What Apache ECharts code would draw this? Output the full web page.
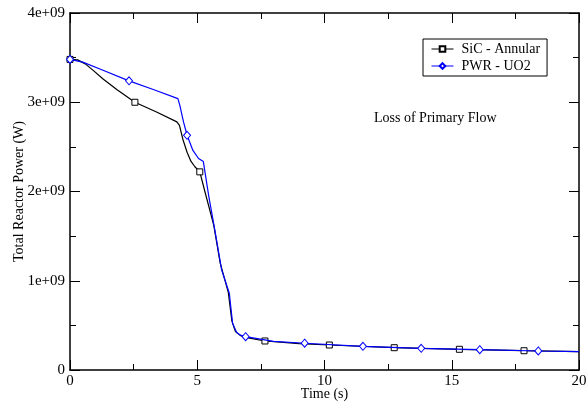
<!DOCTYPE html>
<html>
<head>
<meta charset="utf-8">
<title>Loss of Primary Flow</title>
<script src="https://cdn.jsdelivr.net/npm/echarts@6/dist/echarts.min.js"></script>
<style>
    html, body { margin: 0; padding: 0; background: #fff; }
    #chart { width: 587px; height: 406px; }
</style>
</head>
<body>
<div id="chart"></div>
<script>
    // time (s) and power (units of 1e9 W)
    var sicTime  = [0, 0.3, 0.6, 0.9, 1.3, 1.85, 2.55, 3.4, 4.2, 4.3, 4.44, 4.6, 4.75, 4.9, 5.1, 5.3, 5.65, 5.9, 6.22, 6.36, 6.5, 6.7, 7.0, 7.66, 9.0, 10.19, 12.74, 15.3, 17.84, 20];
    var sicPower = [3.48, 3.475, 3.43, 3.36, 3.26, 3.14, 3.00, 2.89, 2.78, 2.74, 2.58, 2.44, 2.34, 2.28, 2.22, 2.0, 1.62, 1.2, 0.87, 0.55, 0.43, 0.385, 0.36, 0.325, 0.295, 0.28, 0.25, 0.232, 0.216, 0.205];
    var sicMarks = [0, 6, 14, 23, 25, 26, 27, 28];

    var pwrTime  = [0, 0.5, 1.2, 2.32, 3.3, 4.24, 4.32, 4.46, 4.6, 4.83, 5.05, 5.24, 5.45, 5.69, 5.96, 6.26, 6.39, 6.55, 6.7, 6.9, 8.0, 9.22, 11.51, 13.8, 16.1, 18.4, 20];
    var pwrPower = [3.48, 3.45, 3.37, 3.24, 3.14, 3.04, 2.96, 2.78, 2.63, 2.46, 2.37, 2.335, 1.95, 1.57, 1.12, 0.86, 0.52, 0.42, 0.39, 0.373, 0.32, 0.30, 0.265, 0.243, 0.228, 0.213, 0.205];
    var pwrMarks = [0, 3, 8, 19, 21, 22, 23, 24, 25];

    var seriesNames = ['SiC - Annular', 'PWR - UO2'];
    var xTicks = [0, 5, 10, 15, 20];
    var yTicks = [0, 1, 2, 3, 4];

    var font = 'Liberation Serif';

    function buildData(t, p, marks) {
        var out = [];
        for (var i = 0; i < t.length; i++) {
            var item = { value: [t[i], p[i]] };
            if (marks.indexOf(i) < 0) item.symbol = 'none';
            out.push(item);
        }
        return out;
    }

    function axisX(pos, showLabel) {
        return {
            type: 'value',
            position: pos,
            min: xTicks[0],
            max: xTicks[xTicks.length - 1],
            interval: 5,
            axisLine: { show: true, onZero: false, lineStyle: { color: '#000', width: 1.5 } },
            axisTick: { show: true, inside: true, length: 10, lineStyle: { color: '#000', width: 1 } },
            minorTick: { show: true, splitNumber: 2, length: 6, lineStyle: { color: '#000', width: 1 } },
            splitLine: { show: false },
            axisLabel: { show: showLabel, color: '#000', fontFamily: font, fontSize: 15, margin: 4 }
        };
    }

    function axisY(pos, showLabel) {
        return {
            type: 'value',
            position: pos,
            min: yTicks[0],
            max: yTicks[yTicks.length - 1],
            interval: 1,
            axisLine: { show: true, onZero: false, lineStyle: { color: '#000', width: 1.5 } },
            axisTick: { show: true, inside: true, length: 10, lineStyle: { color: '#000', width: 1 } },
            minorTick: { show: true, splitNumber: 2, length: 6, lineStyle: { color: '#000', width: 1 } },
            splitLine: { show: false },
            axisLabel: {
                show: showLabel, color: '#000', fontFamily: font, fontSize: 15, margin: 5,
                formatter: function (v) { return v === 0 ? '0' : v + 'e+09'; }
            }
        };
    }

    var chart = echarts.init(document.getElementById('chart'));

    var xBottom = axisX('bottom', true);
    xBottom.name = 'Time (s)';
    xBottom.nameLocation = 'middle';
    xBottom.nameGap = 17;
    xBottom.nameMoveOverlap = false;
    xBottom.nameTextStyle = { color: '#000', fontFamily: font, fontSize: 14 };

    var yLeft = axisY('left', true);
    yLeft.name = 'Total Reactor Power (W)';
    yLeft.nameLocation = 'middle';
    yLeft.nameGap = 44;
    yLeft.nameMoveOverlap = false;
    yLeft.nameTextStyle = { color: '#000', fontFamily: font, fontSize: 14 };

    var option = {
        backgroundColor: '#fff',
        animation: false,
        title: {
            text: 'Loss of Primary Flow',
            left: 369,
            top: 106,
            textStyle: { color: '#000', fontFamily: font, fontSize: 14, fontWeight: 'normal' }
        },
        legend: {
            orient: 'vertical',
            left: 423,
            top: 39,
            padding: [3, 7, 3, 8],
            borderColor: '#000',
            borderWidth: 1,
            itemWidth: 22,
            itemHeight: 7,
            itemGap: 3,
            lineStyle: { width: 1 },
            textStyle: { color: '#000', fontFamily: font, fontSize: 14, lineHeight: 14, padding: [0, 0, 0, 3] },
            data: seriesNames
        },
        grid: { left: 70, right: 8, top: 13, bottom: 36, containLabel: false, outerBoundsMode: 'none' },
        xAxis: [xBottom, axisX('top', false)],
        yAxis: [yLeft, axisY('right', false)],
        series: [
            {
                name: seriesNames[0],
                type: 'line',
                data: buildData(sicTime, sicPower, sicMarks),
                symbol: 'rect',
                symbolSize: 6,
                showSymbol: true,
                lineStyle: { color: '#000', width: 1.2 },
                itemStyle: { color: '#fff', borderColor: '#000', borderWidth: 1 },
                emphasis: { disabled: true },
                z: 2
            },
            {
                name: seriesNames[1],
                type: 'line',
                data: buildData(pwrTime, pwrPower, pwrMarks),
                symbol: 'diamond',
                symbolSize: [7, 8],
                showSymbol: true,
                lineStyle: { color: '#0000ff', width: 1.2 },
                itemStyle: { color: '#fff', borderColor: '#0000ff', borderWidth: 1 },
                emphasis: { disabled: true },
                z: 3
            }
        ]
    };
    chart.setOption(option);
</script>
</body>
</html>
